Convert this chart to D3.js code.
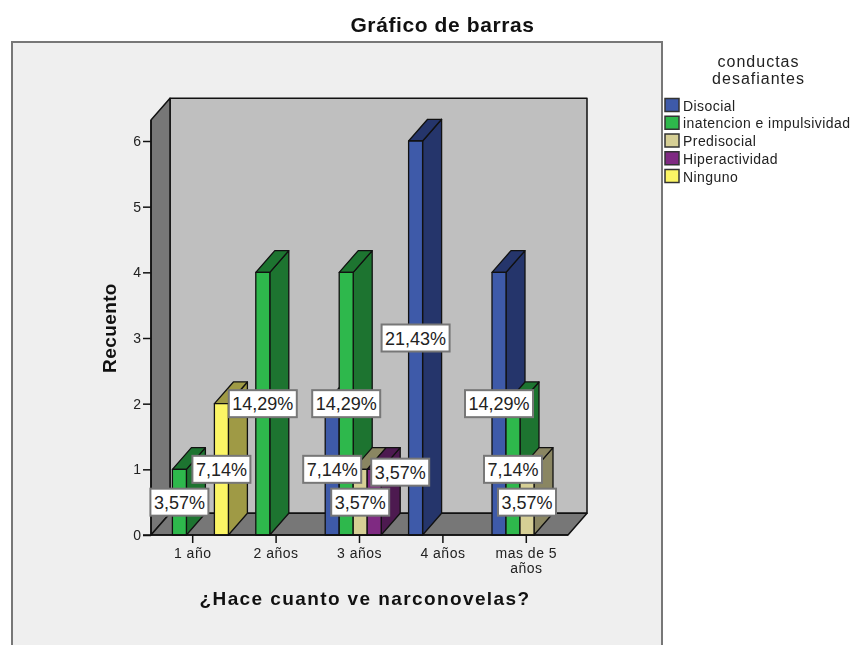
<!DOCTYPE html>
<html>
<head>
<meta charset="utf-8">
<script src="https://cdn.jsdelivr.net/npm/d3@7"></script>
<style>
html, body { margin: 0; padding: 0; background: #fff; }
svg { display: block; font-family: "Liberation Sans", Arial, sans-serif; filter: blur(0.4px); }
</style>
</head>
<body>
<svg width="852" height="645"></svg>
<script>
// values (counts, total 28)
var categories = ["1 año", "2 años", "3 años", "4 años", "mas de 5 años"];
var seriesNames = ["Disocial", "inatencion e impulsividad", "Predisocial", "Hiperactividad", "Ninguno"];
var disocial = [0, 0, 2, 6, 4];
var inatencion = [1, 4, 4, 0, 2];
var predisocial = [0, 0, 1, 0, 1];
var hiperactividad = [0, 0, 1, 0, 0];
var ninguno = [2, 0, 0, 0, 0];
var seriesValues = [disocial, inatencion, predisocial, hiperactividad, ninguno];
var yTicks = [0, 1, 2, 3, 4, 5, 6];
var total = 28;

var frontColors = ["#3e5aa9", "#2eb84c", "#d6cf95", "#7f2a82", "#fbf565"];
var sideColors = ["#25356b", "#1d7430", "#8a8662", "#4d1a50", "#9f9a45"];

var svg = d3.select("svg");

var left = 151, right = 568, bottom = 535, depthX = 19, depthY = 21.7;

var x = d3.scaleBand().domain(categories).range([left, right]);
var inner = d3.scaleBand().domain(seriesNames).range([-34.3, 35.7]);
var y = d3.scaleLinear().domain([0, 6]).range([bottom, 141]);
var yTop = y(6.32);

function pts(a) {
    return a.map(function (p) { return p.join(","); }).join(" ");
}

// outer panel, runs off the bottom of the picture
svg.append("rect")
    .attr("x", 12).attr("y", 42)
    .attr("width", 650).attr("height", 640)
    .attr("fill", "#efefef")
    .attr("stroke", "#777").attr("stroke-width", 2);

svg.append("text")
    .attr("x", 442.5).attr("y", 32)
    .attr("text-anchor", "middle")
    .style("font-size", "21px").style("font-weight", "bold")
    .style("letter-spacing", "0.6px")
    .attr("fill", "#111")
    .text("Gráfico de barras");

// walls and floor
var walls = svg.append("g").attr("stroke", "#111").attr("stroke-width", 1.5).attr("stroke-linejoin", "round");
walls.append("polygon")
    .attr("points", pts([[left + depthX, yTop - depthY], [right + depthX, yTop - depthY], [right + depthX, bottom - depthY], [left + depthX, bottom - depthY]]))
    .attr("fill", "#bfbfbf");
walls.append("polygon")
    .attr("points", pts([[left, yTop], [left + depthX, yTop - depthY], [left + depthX, bottom - depthY], [left, bottom]]))
    .attr("fill", "#777");
walls.append("polygon")
    .attr("points", pts([[left, bottom], [left + depthX, bottom - depthY], [right + depthX, bottom - depthY], [right, bottom]]))
    .attr("fill", "#777");

// flatten for drawing, left to right so the nearer bars cover the side faces
var bars = [];
categories.forEach(function (c, ci) {
    seriesNames.forEach(function (s, si) {
        var v = seriesValues[si][ci];
        if (v > 0) bars.push({ cat: c, series: s, si: si, value: v });
    });
});

var barGroup = svg.append("g").selectAll("g")
    .data(bars)
    .enter().append("g")
    .attr("stroke", "#111")
    .attr("stroke-width", 1.3)
    .attr("stroke-linejoin", "round");

function x0(d) { return x(d.cat) + x.bandwidth() / 2 + inner(d.series); }
function x1(d) { return x0(d) + inner.bandwidth(); }

barGroup.append("polygon")
    .attr("fill", function (d) { return sideColors[d.si]; })
    .attr("points", function (d) {
        return pts([[x1(d), y(d.value)], [x1(d) + depthX, y(d.value) - depthY], [x1(d) + depthX, bottom - depthY], [x1(d), bottom]]);
    });
barGroup.append("polygon")
    .attr("fill", function (d) { return sideColors[d.si]; })
    .attr("points", function (d) {
        return pts([[x0(d), y(d.value)], [x0(d) + depthX, y(d.value) - depthY], [x1(d) + depthX, y(d.value) - depthY], [x1(d), y(d.value)]]);
    });
barGroup.append("rect")
    .attr("fill", function (d) { return frontColors[d.si]; })
    .attr("x", x0)
    .attr("y", function (d) { return y(d.value); })
    .attr("width", inner.bandwidth())
    .attr("height", function (d) { return bottom - y(d.value); });

// axes
var yAxis = svg.append("g")
    .attr("transform", "translate(" + left + ",0)")
    .call(d3.axisLeft(y).tickValues(yTicks).tickSize(8).tickPadding(2).tickFormat(d3.format("d")));
yAxis.select(".domain").attr("d", "M0," + yTop + "V" + bottom);

var xAxis = svg.append("g")
    .attr("transform", "translate(0," + bottom + ")")
    .call(d3.axisBottom(x).tickSize(8).tickPadding(5).tickSizeOuter(0));
xAxis.select(".domain").attr("d", "M" + (left - 8) + ",0H" + right);

svg.selectAll(".tick line, .domain").attr("stroke", "#111").attr("stroke-width", 1.5);
svg.selectAll(".tick text").style("font-size", "14px").style("font-family", "inherit").attr("fill", "#222");
xAxis.selectAll(".tick text").style("letter-spacing", "0.5px");

// long category wraps on two lines
xAxis.selectAll(".tick text").filter(function (d) { return d === "mas de 5 años"; })
    .each(function () {
        var t = d3.select(this), yy = t.attr("y"), dy = t.attr("dy");
        t.text(null);
        t.append("tspan").attr("x", 0).attr("y", yy).attr("dy", dy).text("mas de 5");
        t.append("tspan").attr("x", 0).attr("y", yy).attr("dy", "1.76em").text("años");
    });

svg.append("text")
    .attr("x", 365).attr("y", 605)
    .attr("text-anchor", "middle")
    .style("font-size", "19px").style("font-weight", "bold")
    .style("letter-spacing", "1.4px")
    .attr("fill", "#111")
    .text("¿Hace cuanto ve narconovelas?");

svg.append("text")
    .attr("transform", "translate(116,328) rotate(-90)")
    .attr("text-anchor", "middle")
    .style("font-size", "19px").style("font-weight", "bold")
    .style("letter-spacing", "0.4px")
    .attr("fill", "#111")
    .text("Recuento");

// value labels, centred on the bar at half height
var fmt = function (v) { return (v / total * 100).toFixed(2).replace(".", ",") + "%"; };

var labels = svg.append("g").selectAll("g")
    .data(bars)
    .enter().append("g")
    .attr("transform", function (d) {
        var cx = (x0(d) + x1(d)) / 2, cy = y(d.value / 2);
        // the one label the original moved aside to avoid a collision
        if (d.series === "Hiperactividad") { cx += 26; cy -= 30; }
        return "translate(" + cx + "," + cy + ")";
    });

labels.append("rect")
    .attr("x", function (d) { return d.value >= 4 ? -34 : -29; })
    .attr("y", -13.5)
    .attr("width", function (d) { return d.value >= 4 ? 68 : 58; })
    .attr("height", 27)
    .attr("fill", "#fff")
    .attr("stroke", "#777")
    .attr("stroke-width", 2);

labels.append("text")
    .attr("text-anchor", "middle")
    .attr("y", 6.5)
    .style("font-size", "18px")
    .attr("fill", "#222")
    .text(function (d) { return fmt(d.value); });

// legend
var legendTitle = svg.append("text")
    .attr("text-anchor", "middle")
    .style("font-size", "16px")
    .style("letter-spacing", "1px")
    .attr("fill", "#222");
legendTitle.append("tspan").attr("x", 758.5).attr("y", 67).text("conductas");
legendTitle.append("tspan").attr("x", 758.5).attr("y", 84).text("desafiantes");

var legendY = d3.scalePoint().domain(seriesNames).range([105, 176]);
var legend = svg.append("g").selectAll("g")
    .data(seriesNames)
    .enter().append("g")
    .attr("transform", function (d) { return "translate(665," + legendY(d) + ")"; });

legend.append("rect")
    .attr("x", 0).attr("y", -6.5)
    .attr("width", 14).attr("height", 13)
    .attr("fill", function (d, i) { return frontColors[i]; })
    .attr("stroke", "#333").attr("stroke-width", 1.5);

legend.append("text")
    .attr("x", 18).attr("y", 5.5)
    .style("font-size", "14px")
    .style("letter-spacing", "0.44px")
    .attr("fill", "#222")
    .text(function (d) { return d; });
</script>
</body>
</html>
